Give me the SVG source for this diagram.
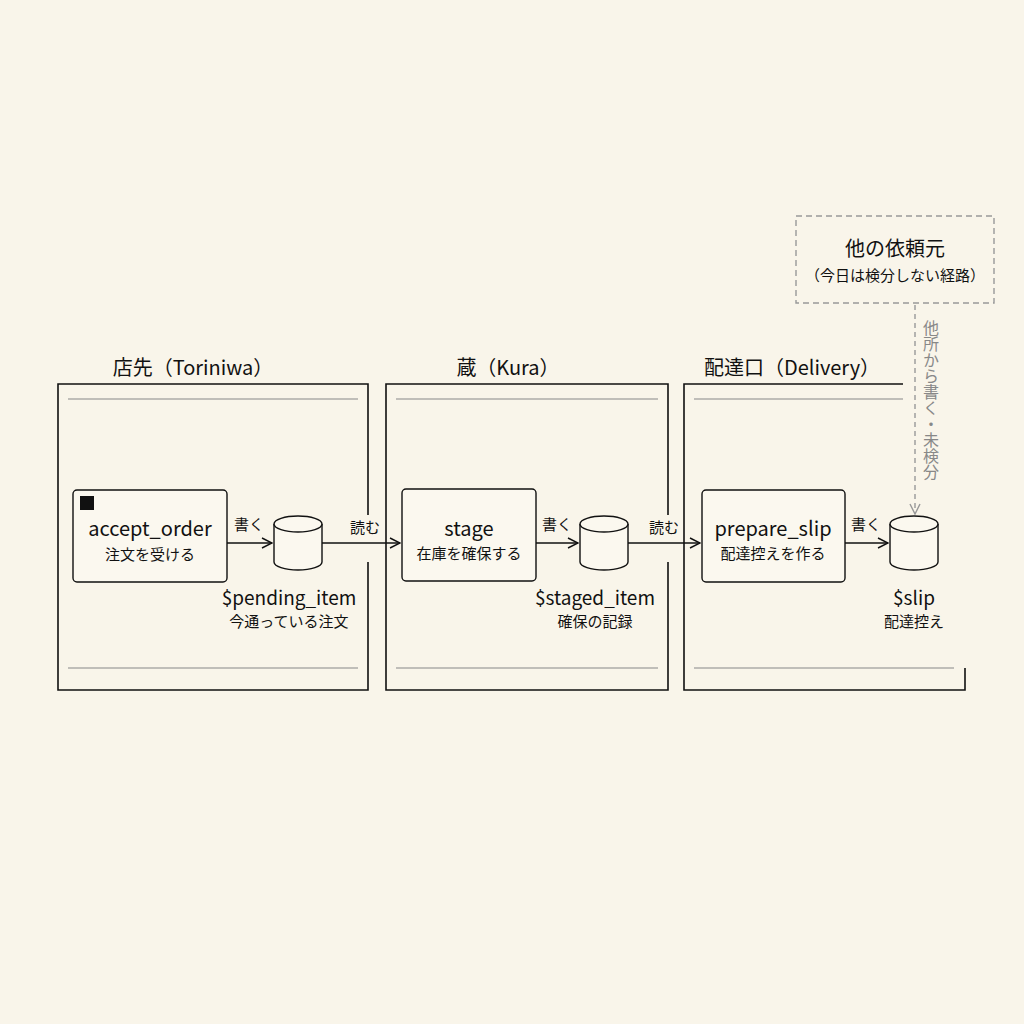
<svg xmlns="http://www.w3.org/2000/svg" width="1024" height="1024" viewBox="0 0 1024 1024">
<style>
text{font-family:"Noto Sans CJK JP","Noto Sans",sans-serif;fill:#111;text-anchor:middle}
.fr{fill:none;stroke:#111;stroke-width:1.6}
.in{stroke:#888;stroke-width:1.2}
.nd{fill:#fbf8ef;stroke:#111;stroke-width:1.4}
.cn{fill:none;stroke:#111;stroke-width:1.4}
.big{font-size:20px}
.sm{font-size:15px}
.lb{font-size:15px}
.t1{font-size:20px}
</style>
<defs>
<marker id="ar" viewBox="0 0 12 12" refX="11" refY="6" markerWidth="12" markerHeight="12" markerUnits="userSpaceOnUse" orient="auto"><path d="M1,1 L11,6 L1,11" fill="none" stroke="#111" stroke-width="1.4"/></marker>
<marker id="ag" viewBox="0 0 12 12" refX="11" refY="6" markerWidth="12" markerHeight="12" markerUnits="userSpaceOnUse" orient="auto"><path d="M1,1 L11,6 L1,11" fill="none" stroke="#999" stroke-width="1.4"/></marker>
</defs>
<rect width="1024" height="1024" fill="#f9f5ea"/>
<g id="lane-toriniwa">
<path class="fr" d="M368,515 V384 H58 V690 H368 V562"/>
<line class="in" x1="68" y1="399" x2="358" y2="399"/><line class="in" x1="68" y1="668" x2="358" y2="668"/>
<text x="193" y="375" class="big">店先（Toriniwa）</text>
</g>
<g id="lane-kura">
<path class="fr" d="M668,515 V384 H386 V690 H668 V562"/>
<line class="in" x1="396" y1="399" x2="658" y2="399"/><line class="in" x1="396" y1="668" x2="658" y2="668"/>
<text x="508" y="375" class="big">蔵（Kura）</text>
</g>
<g id="lane-delivery">
<path class="fr" d="M903,384 H684 V690 H965 V668"/>
<line class="in" x1="694" y1="399" x2="903" y2="399"/><line class="in" x1="694" y1="668" x2="954" y2="668"/>
<text x="792" y="375" class="big">配達口（Delivery）</text>
</g>
<g id="accept_order">
<rect class="nd" x="73" y="490" width="154" height="92" rx="4"/>
<rect x="80" y="496" width="14" height="14" fill="#111"/>
<text x="150" y="536" class="t1">accept_order</text>
<text x="150" y="560" class="sm">注文を受ける</text>
</g>
<g id="pending_item">
<path class="nd" d="M274,524 V562 A24,8 0 0 0 322,562 V524"/>
<ellipse class="nd" cx="298" cy="524" rx="24" ry="8"/>
<text x="289" y="605" style="font-size:19px">$pending_item</text>
<text x="289" y="627" class="sm">今通っている注文</text>
</g>
<g id="stage">
<rect class="nd" x="402" y="489" width="134" height="92" rx="4"/>
<text x="469" y="536" class="t1">stage</text>
<text x="469" y="559" class="sm">在庫を確保する</text>
</g>
<g id="staged_item">
<path class="nd" d="M580,524 V562 A24,8 0 0 0 628,562 V524"/>
<ellipse class="nd" cx="604" cy="524" rx="24" ry="8"/>
<text x="595" y="605" style="font-size:19px">$staged_item</text>
<text x="595" y="627" class="sm">確保の記録</text>
</g>
<g id="prepare_slip">
<rect class="nd" x="702" y="490" width="143" height="92" rx="4"/>
<text x="773" y="536" class="t1">prepare_slip</text>
<text x="773" y="559" class="sm">配達控えを作る</text>
</g>
<g id="slip">
<path class="nd" d="M890,524 V562 A24,8 0 0 0 938,562 V524"/>
<ellipse class="nd" cx="914" cy="524" rx="24" ry="8"/>
<text x="914" y="605" style="font-size:19px">$slip</text>
<text x="914" y="627" class="sm">配達控え</text>
</g>
<g id="other-source">
<rect x="796" y="216" width="198" height="87" fill="none" stroke="#999" stroke-width="1.4" stroke-dasharray="6,4"/>
<text x="895" y="256" style="font-size:20px">他の依頼元</text>
<text x="895" y="281" class="sm">（今日は検分しない経路）</text>
</g>
<g id="connectors">
<line class="cn" x1="227" y1="543" x2="272" y2="543" marker-end="url(#ar)"/>
<text x="249" y="530" class="lb">書く</text>
<line class="cn" x1="322" y1="543" x2="400" y2="543" marker-end="url(#ar)"/>
<text x="365" y="533" class="lb">読む</text>
<line class="cn" x1="536" y1="543" x2="578" y2="543" marker-end="url(#ar)"/>
<text x="557" y="530" class="lb">書く</text>
<line class="cn" x1="628" y1="543" x2="700" y2="543" marker-end="url(#ar)"/>
<text x="664" y="533" class="lb">読む</text>
<line class="cn" x1="845" y1="543" x2="888" y2="543" marker-end="url(#ar)"/>
<text x="866" y="530" class="lb">書く</text>
<line x1="915" y1="305" x2="915" y2="514" stroke="#999" stroke-width="1.4" stroke-dasharray="5,4" marker-end="url(#ag)"/>
<text x="931" y="320" style="font-size:16px;fill:#888;writing-mode:vertical-rl;text-anchor:start">他所から書く・未検分</text>
</g>
</svg>
